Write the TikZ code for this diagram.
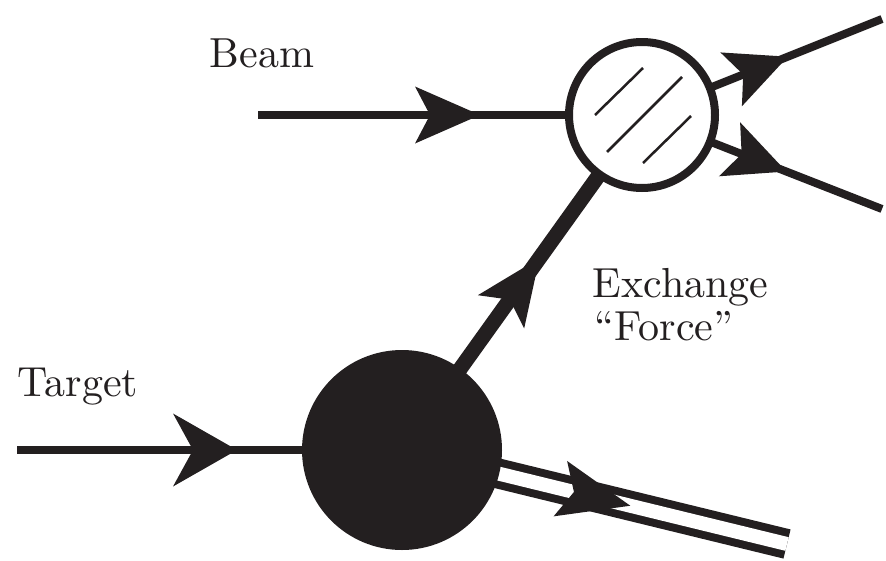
\documentclass[tikz,border=0pt]{standalone}
\usetikzlibrary{decorations.markings,backgrounds}
\definecolor{ink}{RGB}{35,31,32}
\newcommand{\headshape}[3]{\fill[ink,draw=none] (0pt,0pt) -- ({-#1},{#2/2}) -- ({-#1+#3},0pt) -- ({-#1},{-#2/2}) -- cycle;}
\begin{document}
\begin{tikzpicture}[x=1pt,y=-1pt,line cap=butt,
  inkline/.style={draw=ink,line width=8pt},
  thickline/.style={draw=ink,line width=15pt},
  hatchline/.style={draw=ink,line width=2.5pt},
  labeltext/.style={font=\fontsize{10}{12}\selectfont,scale=4.2,transform shape,text=ink,inner sep=0pt,anchor=base west},
  headat/.style n args={4}{postaction={decorate,decoration={markings,mark=at position #1 with {\headshape{#2}{#3}{#4}}}}}]
\useasboundingbox (0,0) rectangle (886,560);
\node[circle,fill=white,draw=ink,line width=8pt,minimum size=146pt,inner sep=0pt] (hatch) at (642,115) {};
\node[circle,fill=ink,minimum size=200pt,inner sep=0pt] (blob) at (402,450) {};
\coordinate (beamin) at (258,115);
\coordinate (targetin) at (17,450);
\coordinate (outup) at (882,19);
\coordinate (outdown) at (882,209);
\coordinate (recoil) at (787,544);
\draw[hatchline] ([shift={(-47,0)}]hatch.center) -- ([shift={(1,-47)}]hatch.center);
\draw[hatchline] ([shift={(-35,37)}]hatch.center) -- ([shift={(40,-38)}]hatch.center);
\draw[hatchline] ([shift={(1,48)}]hatch.center) -- ([shift={(49,1)}]hatch.center);
\begin{pgfonlayer}{background}
\draw[inkline,headat={222pt}{65pt}{57pt}{15pt}] (beamin) -- (hatch.center);
\draw[inkline,headat={220pt}{64pt}{73pt}{20pt}] (targetin) -- (blob.center);
\draw[thickline,headat={236pt}{66pt}{57pt}{15pt}] (blob.center) -- (hatch.center);
\draw[inkline,headat={157pt}{61pt}{58pt}{13pt}] (hatch.center) -- (outup);
\draw[inkline,headat={155pt}{61pt}{58pt}{13pt}] (hatch.center) -- (outdown);
\draw[inkline,double=white,double distance=14pt,headat={235pt}{72pt}{57pt}{14pt}] (blob.center) -- (recoil);
\end{pgfonlayer}
\node[labeltext] (beam) at (209,67) {Beam};
\node[labeltext] (exch) at (592,297) {Exchange};
\node[labeltext] (force) at (594,340) {``Force''};
\node[labeltext] (target) at (17,396) {Target};
\end{tikzpicture}
\end{document}
